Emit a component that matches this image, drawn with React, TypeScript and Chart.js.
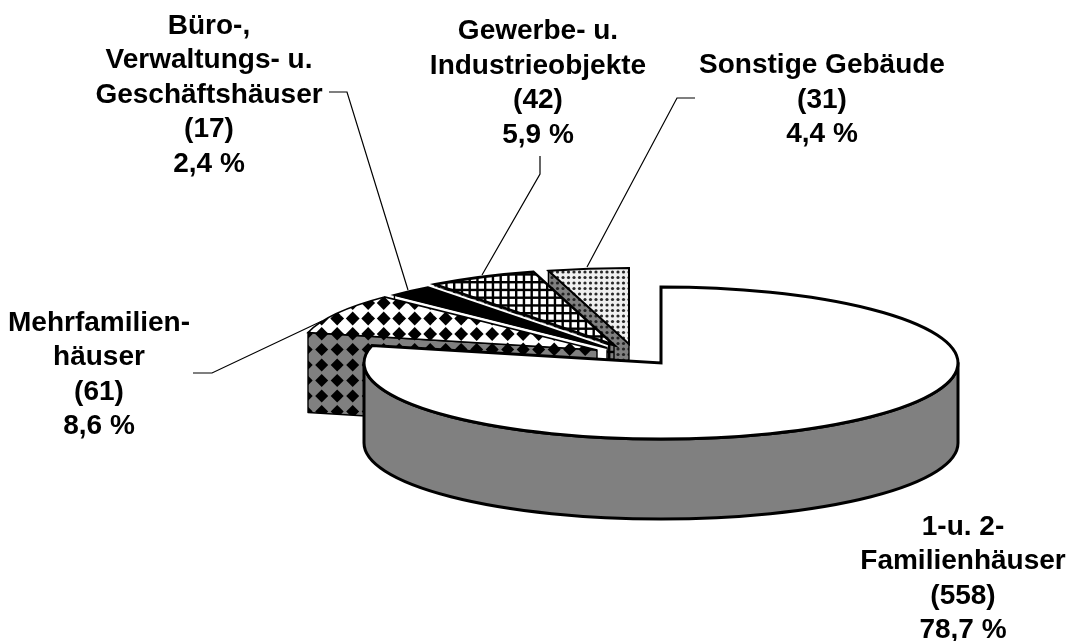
import React, { useEffect, useRef } from "react";
import { Chart, registerables } from "chart.js";

Chart.register(...registerables);

// Building types, clockwise from twelve o'clock
const categories = [
  ["1-u. 2-", "Familienhäuser"],
  ["Mehrfamilien-", "häuser"],
  ["Büro-,", "Verwaltungs- u.", "Geschäftshäuser"],
  ["Gewerbe- u.", "Industrieobjekte"],
  ["Sonstige Gebäude"],
];
const counts = [558, 61, 17, 42, 31];
const shares = ["78,7 %", "8,6 %", "2,4 %", "5,9 %", "4,4 %"];

// Pie layout
const CENTER = { x: 661, y: 363 };
const RADIUS = 297;
const TILT = 76 / 297;
const DEPTH = 80;
// Shift of each exploded slice's tip from the pie centre
const sliceShift = [
  { x: 0, y: 0 },
  { x: -64, y: -13 },
  { x: -54, y: -15 },
  { x: -47, y: -18 },
  { x: -32, y: -19 },
];
// Centre x and first line y of each text block
const labelAnchor = [
  { x: 963, y: 527 },
  { x: 99, y: 323 },
  { x: 209, y: 26 },
  { x: 538, y: 31.5 },
  { x: 822, y: 65.5 },
];
const LINE_HEIGHT = 34.5;
// Leader lines between text and slices
const leaders = [
  [[193, 373], [212, 373], [322, 321]],
  [[329, 92], [347, 92], [408, 290]],
  [[540, 156], [540, 174], [482, 275]],
  [[695, 98], [677, 98], [587, 267]],
];

function tile(size: number, paint: (c: CanvasRenderingContext2D) => void): CanvasPattern {
  const cv = document.createElement("canvas");
  cv.width = size;
  cv.height = size;
  const c = cv.getContext("2d") as CanvasRenderingContext2D;
  paint(c);
  return c.createPattern(cv, "repeat") as CanvasPattern;
}

function diamonds(bg: string, h: number): CanvasPattern {
  return tile(31, (c) => {
    c.fillStyle = bg;
    c.fillRect(0, 0, 31, 31);
    c.fillStyle = "#000";
    for (const cx of [11.7 - 15.5, 11.7, 11.7 + 15.5]) {
      for (const cy of [8.5 - 15.5, 8.5, 8.5 + 15.5]) {
        c.beginPath();
        c.moveTo(cx - h, cy);
        c.lineTo(cx, cy - h);
        c.lineTo(cx + h, cy);
        c.lineTo(cx, cy + h);
        c.closePath();
        c.fill();
      }
    }
  });
}

function lattice(bg: string): CanvasPattern {
  return tile(31, (c) => {
    c.fillStyle = bg;
    c.fillRect(0, 0, 31, 31);
    c.fillStyle = "#000";
    for (let i = 0; i < 4; i++) {
      c.fillRect(3.5 + i * 7.75, 0, 2.4, 31);
      c.fillRect(0, 2 + i * 7.75, 31, 2.4);
    }
  });
}

function dots(bg: string, ink: string): CanvasPattern {
  return tile(11, (c) => {
    c.fillStyle = bg;
    c.fillRect(0, 0, 11, 11);
    c.fillStyle = ink;
    for (const cx of [2, 7.5]) {
      for (const cy of [2.5, 8]) {
        c.beginPath();
        c.arc(cx, cy, 1.6, 0, Math.PI * 2);
        c.fill();
      }
    }
  });
}

const GREY = "#808080";

export default function App() {
  const ref = useRef<HTMLCanvasElement>(null);

  useEffect(() => {
    const canvas = ref.current as HTMLCanvasElement;
    const tops: (string | CanvasPattern)[] = [
      "#ffffff",
      diamonds("#ffffff", 6.9),
      "#000000",
      lattice("#ffffff"),
      dots("#f0f0f0", "#2a2a2a"),
    ];
    const sides: (string | CanvasPattern)[] = [
      GREY,
      diamonds(GREY, 6.5),
      "#ffffff",
      lattice(GREY),
      dots(GREY, "#222222"),
    ];
    const rimWidth = [3, 1.6, 2, 2.6, 2];

    const pie3d = {
      id: "pie3d",
      beforeDatasetDraw(chart: any) {
        const ctx: CanvasRenderingContext2D = chart.ctx;
        const arcs = chart.getDatasetMeta(0).data;

        const toSlice = (i: number) => {
          const a = arcs[i];
          ctx.translate(a.x + sliceShift[i].x, a.y + sliceShift[i].y);
          ctx.scale(1, TILT);
          ctx.translate(-a.x, -a.y);
        };
        const rimPoint = (i: number, angle: number) => ({
          x: arcs[i].x + sliceShift[i].x + arcs[i].outerRadius * Math.cos(angle),
          y: arcs[i].y + sliceShift[i].y + arcs[i].outerRadius * TILT * Math.sin(angle),
        });

        // Back slices first so that nearer ones cover them; the big slice goes last
        for (let i = arcs.length - 1; i >= 0; i--) {
          const a = arcs[i];
          const tipX = a.x + sliceShift[i].x;
          const tipY = a.y + sliceShift[i].y;

          ctx.save();
          ctx.fillStyle = sides[i] as any;
          ctx.strokeStyle = "#000";
          ctx.lineJoin = "round";
          ctx.beginPath();
          if (i === 0) {
            // Round front wall of the big slice
            const ry = a.outerRadius * TILT;
            ctx.ellipse(tipX, tipY, a.outerRadius, ry, 0, 0, Math.PI);
            ctx.ellipse(tipX, tipY + DEPTH, a.outerRadius, ry, 0, Math.PI, 0, true);
            ctx.closePath();
            ctx.fill();
            ctx.lineWidth = 3;
            ctx.stroke();
          } else {
            // Flat cut face below the slice's starting edge
            const rim = rimPoint(i, a.startAngle);
            ctx.moveTo(tipX, tipY);
            ctx.lineTo(rim.x, rim.y);
            ctx.lineTo(rim.x, rim.y + DEPTH);
            ctx.lineTo(tipX, tipY + DEPTH);
            ctx.closePath();
            ctx.fill();
            ctx.lineWidth = 1.4;
            ctx.stroke();
          }
          ctx.restore();

          if (i === 2) {
            // Light seam along the far edge of the black slice
            const far = rimPoint(2, a.endAngle);
            ctx.save();
            ctx.strokeStyle = "#ffffff";
            ctx.lineWidth = 6;
            ctx.beginPath();
            ctx.moveTo(far.x, far.y);
            ctx.lineTo(tipX, tipY);
            ctx.stroke();
            ctx.restore();
          }

          // Top face, filled by the arc element itself
          ctx.save();
          toSlice(i);
          const fill = tops[i];
          if (typeof fill !== "string") {
            fill.setTransform(ctx.getTransform().inverse());
          }
          a.draw(ctx);
          ctx.restore();

          // Outline, stroked without the tilt so the pen stays round
          ctx.save();
          ctx.beginPath();
          ctx.save();
          toSlice(i);
          ctx.moveTo(a.x, a.y);
          ctx.arc(a.x, a.y, a.outerRadius, a.startAngle, a.endAngle);
          ctx.closePath();
          ctx.restore();
          ctx.strokeStyle = "#000";
          ctx.lineWidth = rimWidth[i];
          ctx.lineJoin = "miter";
          ctx.stroke();
          ctx.restore();
        }
        return false;
      },
      afterDraw(chart: any) {
        const ctx: CanvasRenderingContext2D = chart.ctx;
        ctx.save();
        ctx.strokeStyle = "#000";
        ctx.lineWidth = 1.2;
        for (const path of leaders) {
          ctx.beginPath();
          path.forEach(([x, y], k) => (k ? ctx.lineTo(x, y) : ctx.moveTo(x, y)));
          ctx.stroke();
        }
        ctx.fillStyle = "#000";
        ctx.font = 'bold 28px "Liberation Sans", Arial, sans-serif';
        ctx.textAlign = "center";
        ctx.textBaseline = "middle";
        categories.forEach((lines, i) => {
          const block = [...lines, `(${counts[i]})`, shares[i]];
          block.forEach((t, k) => {
            ctx.fillText(t, labelAnchor[i].x, labelAnchor[i].y + k * LINE_HEIGHT);
          });
        });
        ctx.restore();
      },
    };

    const chart = new Chart(canvas, {
      type: "pie",
      data: {
        labels: categories.map((l) => l.join(" ")),
        datasets: [
          {
            data: counts,
            backgroundColor: tops as any,
            borderWidth: 0,
            radius: RADIUS,
          } as any,
        ],
      },
      options: {
        animation: false,
        responsive: false,
        devicePixelRatio: 1,
        layout: {
          padding: {
            left: 2 * CENTER.x - 1072,
            right: 0,
            top: 2 * CENTER.y - 641,
            bottom: 0,
          },
        },
        plugins: {
          legend: { display: false },
          tooltip: { enabled: false },
        },
      },
      plugins: [pie3d],
    } as any);

    return () => chart.destroy();
  }, []);

  return (
    <canvas
      ref={ref}
      width={1072}
      height={641}
      style={{ position: "absolute", left: 0, top: 0, display: "block" }}
    />
  );
}
